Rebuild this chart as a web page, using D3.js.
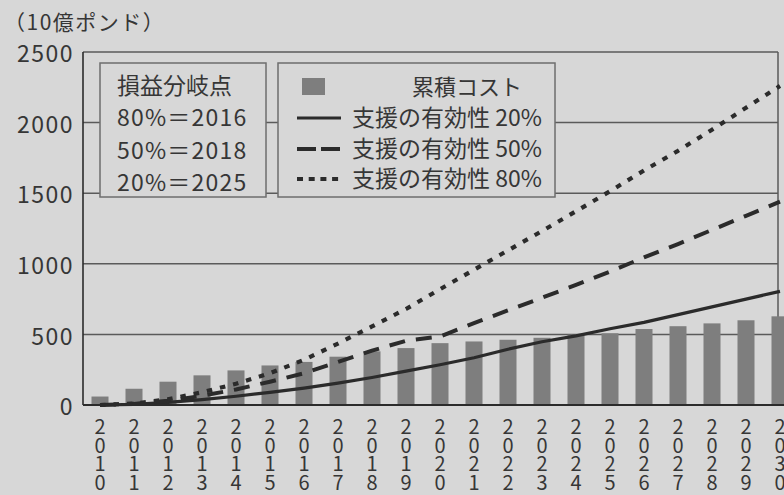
<!DOCTYPE html>
<html>
<head>
<meta charset="utf-8">
<script src="https://cdn.jsdelivr.net/npm/d3@7"></script>
<style>
  html, body { margin: 0; padding: 0; background: #d7d7d7; }
  svg { display: block; }
  text { font-family: "Noto Sans CJK JP", "Noto Sans", sans-serif; fill: #363636; }
</style>
</head>
<body>
<svg id="chart" width="784" height="495"></svg>
<script>
// Cumulative cost of support vs. savings at three levels of effectiveness (£ billions)
const years = ["2010","2011","2012","2013","2014","2015","2016","2017","2018","2019","2020",
               "2021","2022","2023","2024","2025","2026","2027","2028","2029","2030"];
const cumulativeCost = [60, 115, 165, 210, 245, 280, 305, 342, 380, 403, 438,
                        450, 462, 476, 498, 508, 538, 558, 578, 600, 628];
const effect20 = [0, 5, 18, 38, 62, 90, 120, 155, 195, 240, 285,
                  335, 395, 448, 490, 540, 585, 640, 695, 750, 805];
const effect50 = [0, 8, 30, 65, 110, 165, 225, 305, 385, 455, 485,
                  580, 670, 760, 850, 945, 1045, 1140, 1240, 1340, 1440];
const effect80 = [0, 10, 40, 90, 150, 225, 320, 435, 556, 680, 820,
                  958, 1095, 1232, 1372, 1514, 1661, 1800, 1950, 2105, 2260];
const yTicks = [0, 500, 1000, 1500, 2000, 2500];
const gridTicks = [500, 1000, 1500, 2000];

const unitLabel = "（10億ポンド）";
const breakEvenTitle = "損益分岐点";
const breakEvenRows = ["80%＝2016", "50%＝2018", "20%＝2025"];
const costLabel = "累積コスト";
const seriesLabels = ["支援の有効性 20%", "支援の有効性 50%", "支援の有効性 80%"];

const svg = d3.select("#chart");
const W = 784, H = 495;
const plot = { left: 83, right: 778, top: 52, bottom: 405 };

const ink = "#2b2b2b";
const gridColor = "#5a5a5a";
const barColor = "#7e7e7e";
const bg = "#d7d7d7";

svg.append("rect").attr("width", W).attr("height", H).attr("fill", bg);

const x = d3.scaleBand().domain(years)
  .range([plot.left, plot.left + years.length * 34])
  .paddingInner(0.5).paddingOuter(0.25);
const cx = d => x(d) + x.bandwidth() / 2;
const y = d3.scaleLinear().domain([0, 2500]).range([plot.bottom, plot.top]);

// horizontal grid
svg.append("g").selectAll("line").data(gridTicks).join("line")
  .attr("x1", plot.left).attr("x2", plot.right)
  .attr("y1", d => y(d)).attr("y2", d => y(d))
  .attr("stroke", gridColor).attr("stroke-width", 1.5);

// frame: top and right
svg.append("line").attr("x1", plot.left).attr("x2", plot.right)
  .attr("y1", y(2500)).attr("y2", y(2500))
  .attr("stroke", gridColor).attr("stroke-width", 1.5);
svg.append("line").attr("x1", plot.right).attr("x2", plot.right)
  .attr("y1", y(2500)).attr("y2", plot.bottom)
  .attr("stroke", gridColor).attr("stroke-width", 1.5);

// bars: cumulative cost
svg.append("g").selectAll("rect").data(years).join("rect")
  .attr("x", d => x(d))
  .attr("width", x.bandwidth())
  .attr("y", (d, i) => y(cumulativeCost[i]))
  .attr("height", (d, i) => y(0) - y(cumulativeCost[i]))
  .attr("fill", barColor);

// savings lines
const seriesStyles = [
  { values: effect20, dash: null, width: 3.2 },
  { values: effect50, dash: "16,11", width: 4 },
  { values: effect80, dash: "5.5,8", width: 4.2 }
];
const line = d3.line().x((v, i) => cx(years[i])).y(v => y(v));
seriesStyles.forEach(s => {
  svg.append("path").datum(s.values)
    .attr("d", line)
    .attr("fill", "none")
    .attr("stroke", ink)
    .attr("stroke-width", s.width)
    .attr("stroke-dasharray", s.dash)
    .attr("stroke-linejoin", "round");
});

// y axis
const yAxis = d3.axisLeft(y).tickValues(yTicks).tickFormat(d3.format("d"))
  .tickSize(0).tickPadding(9);
svg.append("g").attr("transform", `translate(${plot.left},0)`).call(yAxis)
  .call(g => g.select(".domain").remove())
  .call(g => g.selectAll(".tick text")
    .attr("font-size", 23).attr("fill", "#363636").attr("dy", "0.42em")
    .attr("letter-spacing", 1.5)
    .attr("font-family", "\"Noto Sans CJK JP\", sans-serif"));
svg.append("line").attr("x1", plot.left).attr("x2", plot.left)
  .attr("y1", plot.top).attr("y2", plot.bottom)
  .attr("stroke", ink).attr("stroke-width", 1.6);

// x axis with vertically stacked year digits
const xAxis = d3.axisBottom(x).tickSize(0).tickPadding(0);
svg.append("g").attr("transform", `translate(0,${plot.bottom})`).call(xAxis)
  .call(g => g.select(".domain").remove())
  .call(g => g.selectAll(".tick text")
    .attr("font-size", 20).attr("fill", "#363636").attr("y", 0).attr("dy", null)
    .attr("font-family", "\"Noto Sans CJK JP\", sans-serif")
    .text(null)
    .selectAll("tspan").data(d => d.split("")).join("tspan")
      .attr("x", 0).attr("y", (c, i) => 29 + i * 18.6).text(c => c));
svg.append("line").attr("x1", plot.left).attr("x2", W)
  .attr("y1", plot.bottom).attr("y2", plot.bottom)
  .attr("stroke", ink).attr("stroke-width", 1.8);

// unit label
svg.append("text").attr("x", 4).attr("y", 30).attr("font-size", 21)
  .attr("letter-spacing", 1.5).text(unitLabel);

// break-even box
const boxStroke = "#6e6e6e";
svg.append("rect").attr("x", 100).attr("y", 63).attr("width", 166).attr("height", 134)
  .attr("fill", bg).attr("stroke", boxStroke).attr("stroke-width", 1.5);
svg.append("text").attr("x", 117).attr("y", 94).attr("font-size", 23).text(breakEvenTitle);
svg.append("g").selectAll("text").data(breakEvenRows).join("text")
  .attr("x", 117).attr("y", (d, i) => 126 + i * 32.5)
  .attr("font-size", 23).attr("letter-spacing", 1.2).text(d => d);

// series legend box
svg.append("rect").attr("x", 278).attr("y", 63).attr("width", 277).attr("height", 134)
  .attr("fill", bg).attr("stroke", boxStroke).attr("stroke-width", 1.5);
svg.append("rect").attr("x", 302).attr("y", 78).attr("width", 23).attr("height", 17)
  .attr("fill", barColor);
svg.append("text").attr("x", 412).attr("y", 95).attr("font-size", 22).text(costLabel);
const legendDash = [null, "19,5", "6,5.7"];
const legendY = [118, 149, 179];
seriesLabels.forEach((label, i) => {
  svg.append("line").attr("x1", 297).attr("x2", 341)
    .attr("y1", legendY[i]).attr("y2", legendY[i])
    .attr("stroke", ink).attr("stroke-width", seriesStyles[i].width)
    .attr("stroke-dasharray", legendDash[i]);
  svg.append("text").attr("x", 352).attr("y", legendY[i] + 8)
    .attr("font-size", 23).text(label);
});
</script>
</body>
</html>
